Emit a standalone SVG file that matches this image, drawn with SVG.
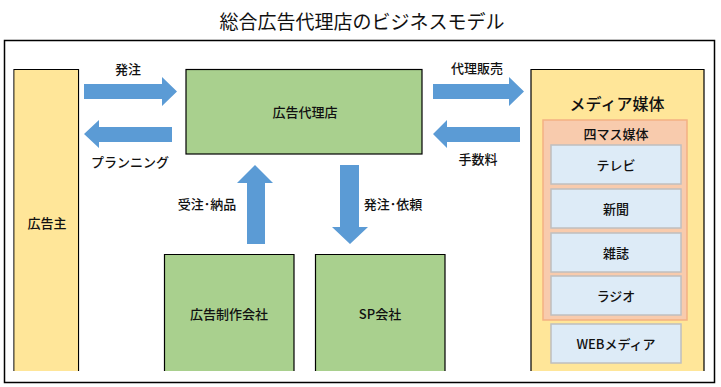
<svg xmlns="http://www.w3.org/2000/svg" width="721" height="387" viewBox="0 0 721 387">
<style>
text{font-family:"Noto Sans CJK JP","Liberation Sans",sans-serif;fill:#111;text-anchor:middle;dominant-baseline:central;font-weight:500}
.lbl{font-size:13px}
.arrow{fill:#5B9BD5}
.yel{fill:#FFE699;stroke:#000;stroke-width:1.2}
.grn{fill:#A9D08E;stroke:#000;stroke-width:1.2}
.item{fill:#DDEBF7;stroke:#BFBFBF;stroke-width:1.5}
</style>
<rect width="721" height="387" fill="#fff"/>
<text x="362" y="20" style="font-size:19px;font-weight:400">総合広告代理店のビジネスモデル</text>
<rect x="4.5" y="40.5" width="710" height="342" fill="none" stroke="#000" stroke-width="1.5"/>
<g id="advertiser">
<path class="yel" d="M14,371 V69.5 H78.5 V371"/>
<rect x="14.6" y="70.1" width="63.3" height="300.9" fill="#FFE699"/>
<text class="lbl" x="47" y="222">広告主</text>
</g>
<g id="agency">
<rect class="grn" x="186" y="69.5" width="236" height="84.5"/>
<text class="lbl" x="305" y="111">広告代理店</text>
</g>
<g id="production">
<path class="grn" d="M164.5,371 V254.5 H294 V371"/>
<text class="lbl" x="229" y="313">広告制作会社</text>
</g>
<g id="sp">
<path class="grn" d="M315.5,371 V254.5 H445 V371"/>
<text class="lbl" x="380" y="313">SP会社</text>
</g>
<g id="media">
<path class="yel" d="M531,371 V69.5 H704 V371"/>
<text x="617" y="103" style="font-size:16px">メディア媒体</text>
<rect x="543" y="120" width="144" height="200" fill="#F8CBAD" stroke="#F4B183" stroke-width="1.5"/>
<text class="lbl" x="616" y="133">四マス媒体</text>
<rect class="item" x="551" y="145" width="130" height="39"/>
<text class="lbl" x="616" y="164">テレビ</text>
<rect class="item" x="551" y="189" width="130" height="39"/>
<text class="lbl" x="616" y="208">新聞</text>
<rect class="item" x="551" y="233" width="130" height="39"/>
<text class="lbl" x="616" y="252">雑誌</text>
<rect class="item" x="551" y="276" width="130" height="39"/>
<text class="lbl" x="616" y="295">ラジオ</text>
<rect class="item" x="551" y="324" width="130" height="39"/>
<text class="lbl" x="616" y="343">WEBメディア</text>
</g>
<g id="connectors">
<polygon class="arrow" points="84,84 162,84 162,77 177,91.5 162,106 162,99 84,99"/>
<text class="lbl" x="128" y="68">発注</text>
<polygon class="arrow" points="172,127 99,127 99,120 84,134 99,148 99,142 172,142"/>
<text class="lbl" x="130" y="161">プランニング</text>
<polygon class="arrow" points="433,84 509,84 509,77 524,91.5 509,106 509,99 433,99"/>
<text class="lbl" x="477" y="67">代理販売</text>
<polygon class="arrow" points="520,127 447,127 447,120 433,134 447,148 447,142 520,142"/>
<text class="lbl" x="478" y="158">手数料</text>
<polygon class="arrow" points="247,244 247,183 237,183 255,165 273,183 265,183 265,244"/>
<text class="lbl" x="207" y="203">受注･納品</text>
<polygon class="arrow" points="340,165 359,165 359,227 368,227 350,244 332,227 340,227"/>
<text class="lbl" x="393" y="203">発注･依頼</text>
</g>
</svg>
